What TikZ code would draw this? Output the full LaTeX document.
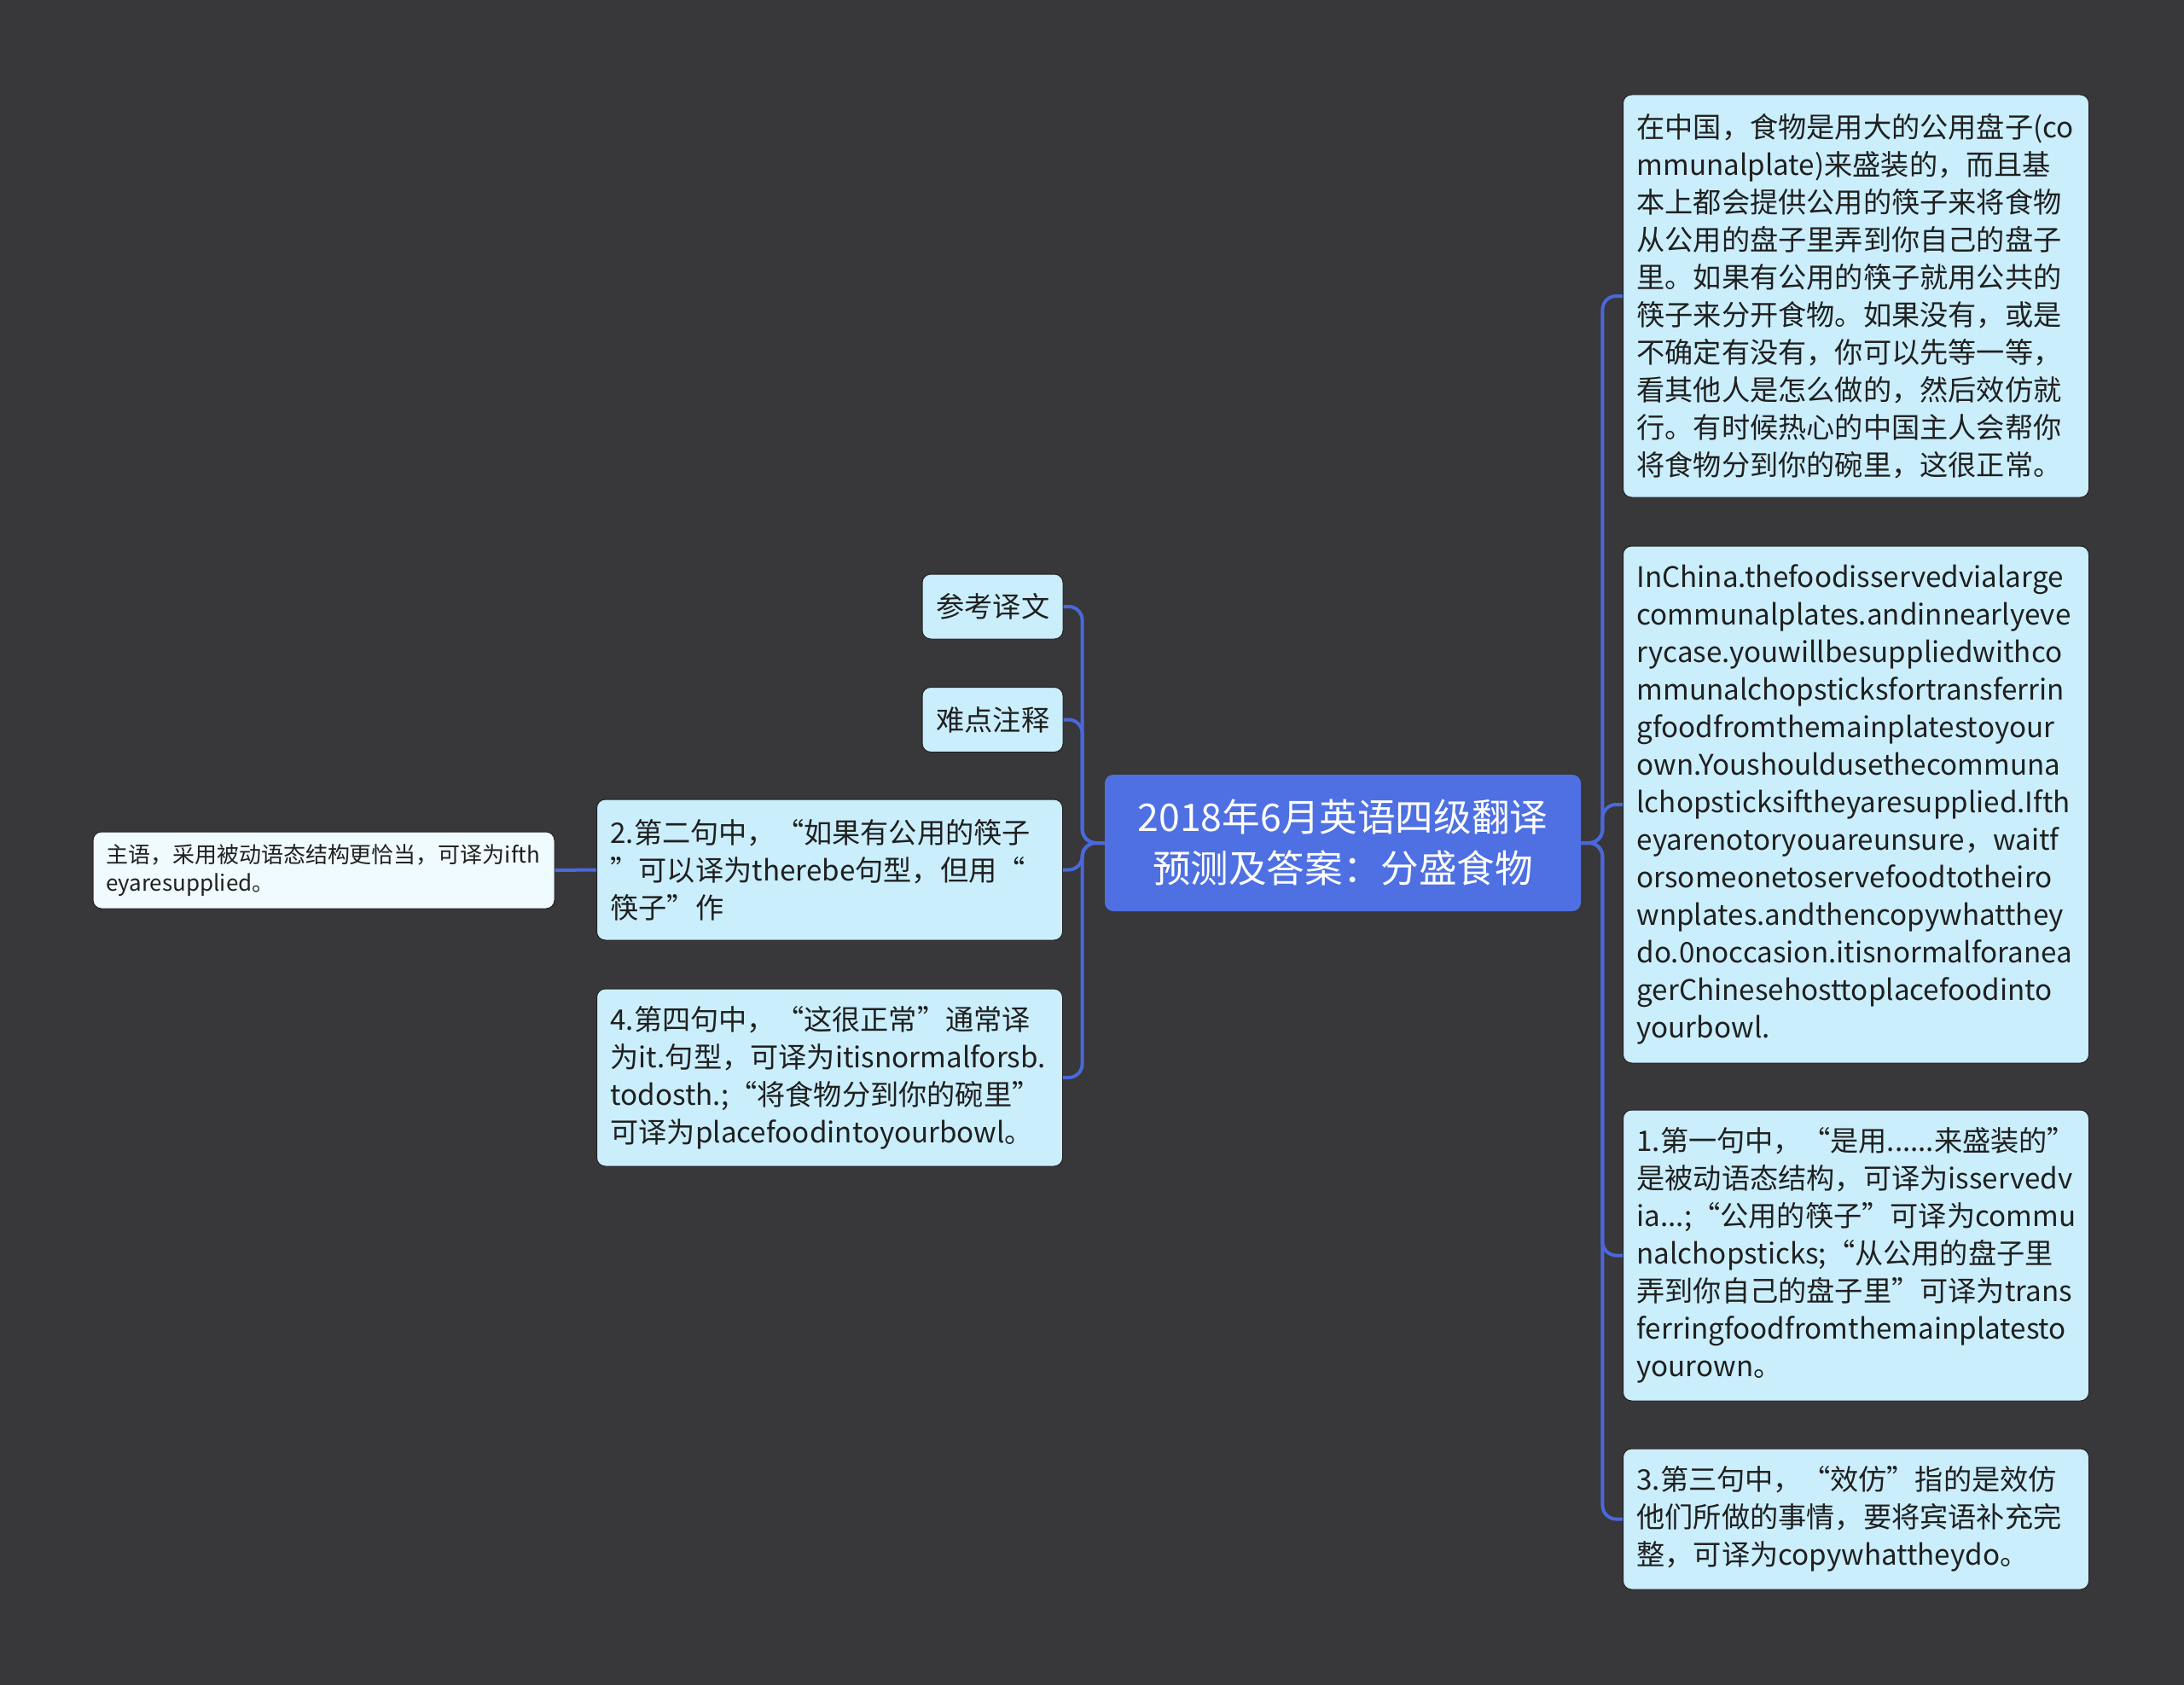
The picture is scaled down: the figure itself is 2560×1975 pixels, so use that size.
\documentclass[tikz,border=0pt]{standalone}
\usepackage{fontspec}
\setmainfont{Noto Sans CJK SC}
\usetikzlibrary{positioning}
\definecolor{canvas}{RGB}{56,55,57}
\definecolor{hub}{RGB}{78,112,226}
\definecolor{wire}{RGB}{74,104,218}
\definecolor{cardcyan}{RGB}{202,238,252}
\definecolor{tipcyan}{RGB}{240,251,255}
\definecolor{ink}{RGB}{32,32,32}
\newcommand{\bodyfont}{\fontsize{16.6pt}{22pt}\selectfont}
\newcommand{\hubfont}{\fontsize{22.3pt}{30pt}\selectfont}
\newcommand{\tipfont}{\fontsize{13pt}{16.5pt}\selectfont}
\tikzset{hubbox/.style={fill=hub,rounded corners=5pt,text=white,font=\hubfont,
    align=center,minimum width=279pt,minimum height=80pt,inner sep=0pt},
  card/.style={fill=cardcyan,draw=canvas!60!black,line width=0.5pt,rounded corners=5pt,
    text=ink,font=\bodyfont,align=left,text width=257pt,inner xsep=8pt,inner ysep=0pt},
  tag/.style={card,text width=66pt,inner xsep=8.25pt,minimum height=38pt},
  tip/.style={card,fill=tipcyan,font=\tipfont,text width=255.5pt,inner xsep=7.5pt,
    minimum height=45pt},
  link/.style={draw=wire,line width=2pt,rounded corners=8pt}}

\begin{document}
\begin{tikzpicture}[x=0.5pt, y=-0.5pt]
\fill[canvas] (0,0) rectangle (2560,1975);
\useasboundingbox (0,0) rectangle (2560,1975);
% centre topic
\node[hubbox] (ctr) at (1574,988) {2018年6月英语四级翻译\\预测及答案：分盛食物};
% left branch
\node[tag] (ref) at (1163.5,711) {参考译文};
\node[tag] (nte) at (1163.5,843.5) {难点注释};
\node[card, minimum height=82.5pt] (two) at (972.5,1019.5)
  {2.第二句中，“如果有公用的筷子\\”可以译为therebe句型，但用“\\筷子”作};
\node[card, minimum height=104pt] (four) at (972.5,1263)
  {4.第四句中，“这很正常”通常译\\为it.句型，可译为itisnormalforsb.\\
   todosth.;“将食物分到你的碗里”\\可译为placefoodintoyourbowl。};
\node[tip] (leaf) at (379.5,1020)
  {主语，采用被动语态结构更恰当，可译为ifth\\eyaresupplied。};
% right branch
\node[card, minimum height=236pt] (r1) at (2175.5,347)
  {在中国，食物是用大的公用盘子(co\\mmunalplate)来盛装的，而且基\\
   本上都会提供公用的筷子来将食物\\从公用的盘子里弄到你自己的盘子\\
   里。如果有公用的筷子就用公共的\\筷子来分开食物。如果没有，或是\\
   不确定有没有，你可以先等一等，\\看其他人是怎么做的，然后效仿就\\
   行。有时候热心的中国主人会帮你\\将食物分到你的碗里，这很正常。};
\node[card, minimum height=303pt] (r2) at (2175.5,943)
  {InChina.thefoodisservedvialarge\\communalplates.andinnearlyeve\\
   rycase.youwillbesuppliedwithco\\mmunalchopsticksfortransferrin\\
   gfoodfromthemainplatestoyour\\own.Youshouldusethecommuna\\
   lchopsticksiftheyaresupplied.Ifth\\eyarenotoryouareunsure，waitf\\
   orsomeonetoservefoodtotheiro\\wnplates.andthencopywhatthey\\
   do.0noccasion.itisnormalforanea\\gerChinesehosttoplacefoodinto\\
   yourbowl.};
\node[card, minimum height=170.5pt] (r3) at (2175.5,1471.5)
  {1.第一句中，“是用......来盛装的”\\是被动语态结构，可译为isservedv\\
   ia...;“公用的筷子”可译为commu\\nalchopsticks;“从公用的盘子里\\
   弄到你自己的盘子里”可译为trans\\ferringfoodfromthemainplatesto\\
   yourown。};
\node[card, minimum height=82.5pt] (r4) at (2175.5,1780.5)
  {3.第三句中，“效仿”指的是效仿\\他们所做的事情，要将宾语补充完\\整，可译为copywhattheydo。};
% connectors
\foreach \n in {r1,r2,r3,r4}
  \draw[link] (ctr.east) -- ++(12.5pt,0) |- (\n.west);
\foreach \n in {ref,nte,two,four}
  \draw[link] (ctr.west) -- ++(-13pt,0) |- (\n.east);
\draw[link] (two.west) -- (leaf.east);
\end{tikzpicture}
\end{document}
